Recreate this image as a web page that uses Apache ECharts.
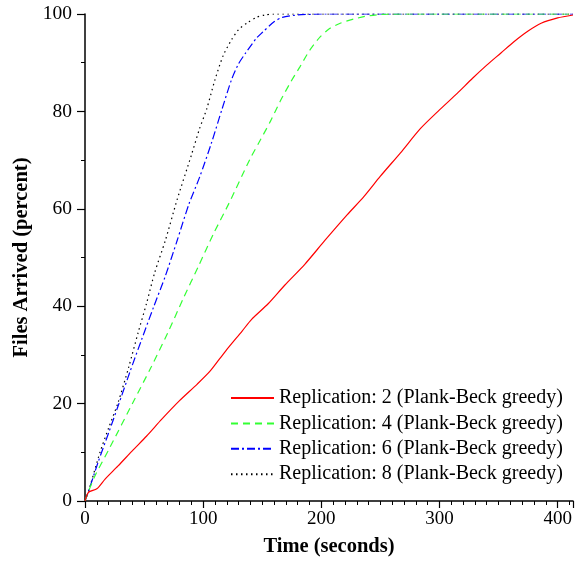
<!DOCTYPE html>
<html><head><meta charset="utf-8">
<script src="https://cdn.jsdelivr.net/npm/echarts@6/dist/echarts.min.js"></script>
<style>html,body{margin:0;padding:0;background:#fff}#c{width:580px;height:562px}</style>
</head><body><div id="c"></div>
<script>
const seriesNames = [
  'Replication: 2 (Plank-Beck greedy)',
  'Replication: 4 (Plank-Beck greedy)',
  'Replication: 6 (Plank-Beck greedy)',
  'Replication: 8 (Plank-Beck greedy)'
];
const rep2 = [[0,0],[3,1.8],[10,2.5],[17,4.5],[28,7.2],[40,10.3],[52,13.3],[65,16.8],[80,20.6],[95,24],[106,26.7],[119,30.8],[133,34.9],[141,37.3],[155,40.5],[169,44.3],[186,48.6],[203,53.5],[222,58.8],[236,62.5],[250,66.7],[267,71.5],[284,76.5],[300,80.3],[315,83.7],[328,86.8],[340,89.5],[352,92],[363,94.3],[375,96.5],[386,98.1],[400,99.2],[413,99.8]];
const rep4 = [[0,0],[3,2],[8.5,5.2],[20,10.5],[42,20.9],[56,27.5],[70,34.5],[83,41.5],[96,48.2],[109,55],[122,61.2],[140,70.4],[147,73.5],[157,78],[165,82],[174,86],[182,89.2],[190,92.5],[199,95.3],[207,97],[216,98.1],[228,99],[239,99.6],[250,99.9],[270,100],[413,100]];
const rep6 = [[0,0],[3,2],[11,7.9],[20,14],[28,19.5],[38,26.5],[48,33.2],[58,39.8],[68,46.2],[78,53.5],[88,61],[97,66.5],[107,73.5],[116,80.5],[124,86.5],[130,89.8],[136,92],[145,95],[150,96.2],[160,98.4],[167,99.3],[180,99.8],[200,100],[413,100]];
const rep8 = [[0,0],[3,2],[12.7,10],[20,15],[28,20.2],[37,27.5],[45,34.6],[52,40.5],[59,46.9],[68,53.5],[78,61.9],[90,71],[97,76.5],[103,80.5],[110,86.5],[117,91.5],[124,94.7],[130,96.8],[138,98.3],[145,99.3],[152,99.8],[160,100],[413,100]];
const xTitle = 'Time (seconds)';
const yTitle = 'Files Arrived (percent)';

const FONT = '"Liberation Serif", "DejaVu Serif", serif';
const styles = [
  {color:'#ff0000', type:'solid'},
  {color:'#33ff33', type:[7,5]},
  {color:'#0000ff', type:[8,3,2,3]},
  {color:'#000000', type:[1.5,3.5]}
];
const datasets = [rep2, rep4, rep6, rep8];

const chart = echarts.init(document.getElementById('c'), null, {renderer:'canvas'});
chart.setOption({
  backgroundColor:'#fff',
  animation:false,
  grid:{left:85, right:7, top:14, bottom:60, containLabel:false},
  legend:{
    orient:'vertical', left:225, top:383, itemWidth:43, itemHeight:20, itemGap:5.4,
    itemStyle:{color:'rgba(0,0,0,0)', borderWidth:0, opacity:0},
    textStyle:{fontFamily:FONT, fontSize:20, color:'#000'},
    data:seriesNames
  },
  xAxis:{
    type:'value', min:0, max:413, interval:100,
    name:xTitle, nameLocation:'middle', nameGap:35,
    nameTextStyle:{fontFamily:FONT, fontSize:20.5, fontWeight:'bold', color:'#000'},
    axisLine:{show:true, onZero:false, lineStyle:{color:'#000', width:1.5}},
    axisTick:{show:true, inside:false, length:7, lineStyle:{color:'#000', width:1.2}},
    minorTick:{show:true, splitNumber:10, length:4, lineStyle:{color:'#000', width:1}},
    axisLabel:{fontFamily:FONT, fontSize:19, color:'#000', margin:9,
      formatter: v => (v % 100 === 0 ? String(v) : '')},
    splitLine:{show:false}
  },
  yAxis:{
    type:'value', min:0, max:100, interval:20,
    name:yTitle, nameLocation:'middle', nameGap:49,
    nameTextStyle:{fontFamily:FONT, fontSize:20.5, fontWeight:'bold', color:'#000'},
    axisLine:{show:true, lineStyle:{color:'#000', width:1.5}},
    axisTick:{show:true, inside:false, length:8, lineStyle:{color:'#000', width:1.2}},
    minorTick:{show:true, splitNumber:2, length:4, lineStyle:{color:'#000', width:1}},
    axisLabel:{fontFamily:FONT, fontSize:19.5, color:'#000', margin:13},
    splitLine:{show:false}
  },
  series: datasets.map((d,i)=>({
    name:seriesNames[i], type:'line', data:d, symbol:'none', smooth:0.25,
    lineStyle:{color:styles[i].color, width:1.2, type:styles[i].type},
    itemStyle:{color:styles[i].color},
    z: 10 - i
  }))
});
</script></body></html>
